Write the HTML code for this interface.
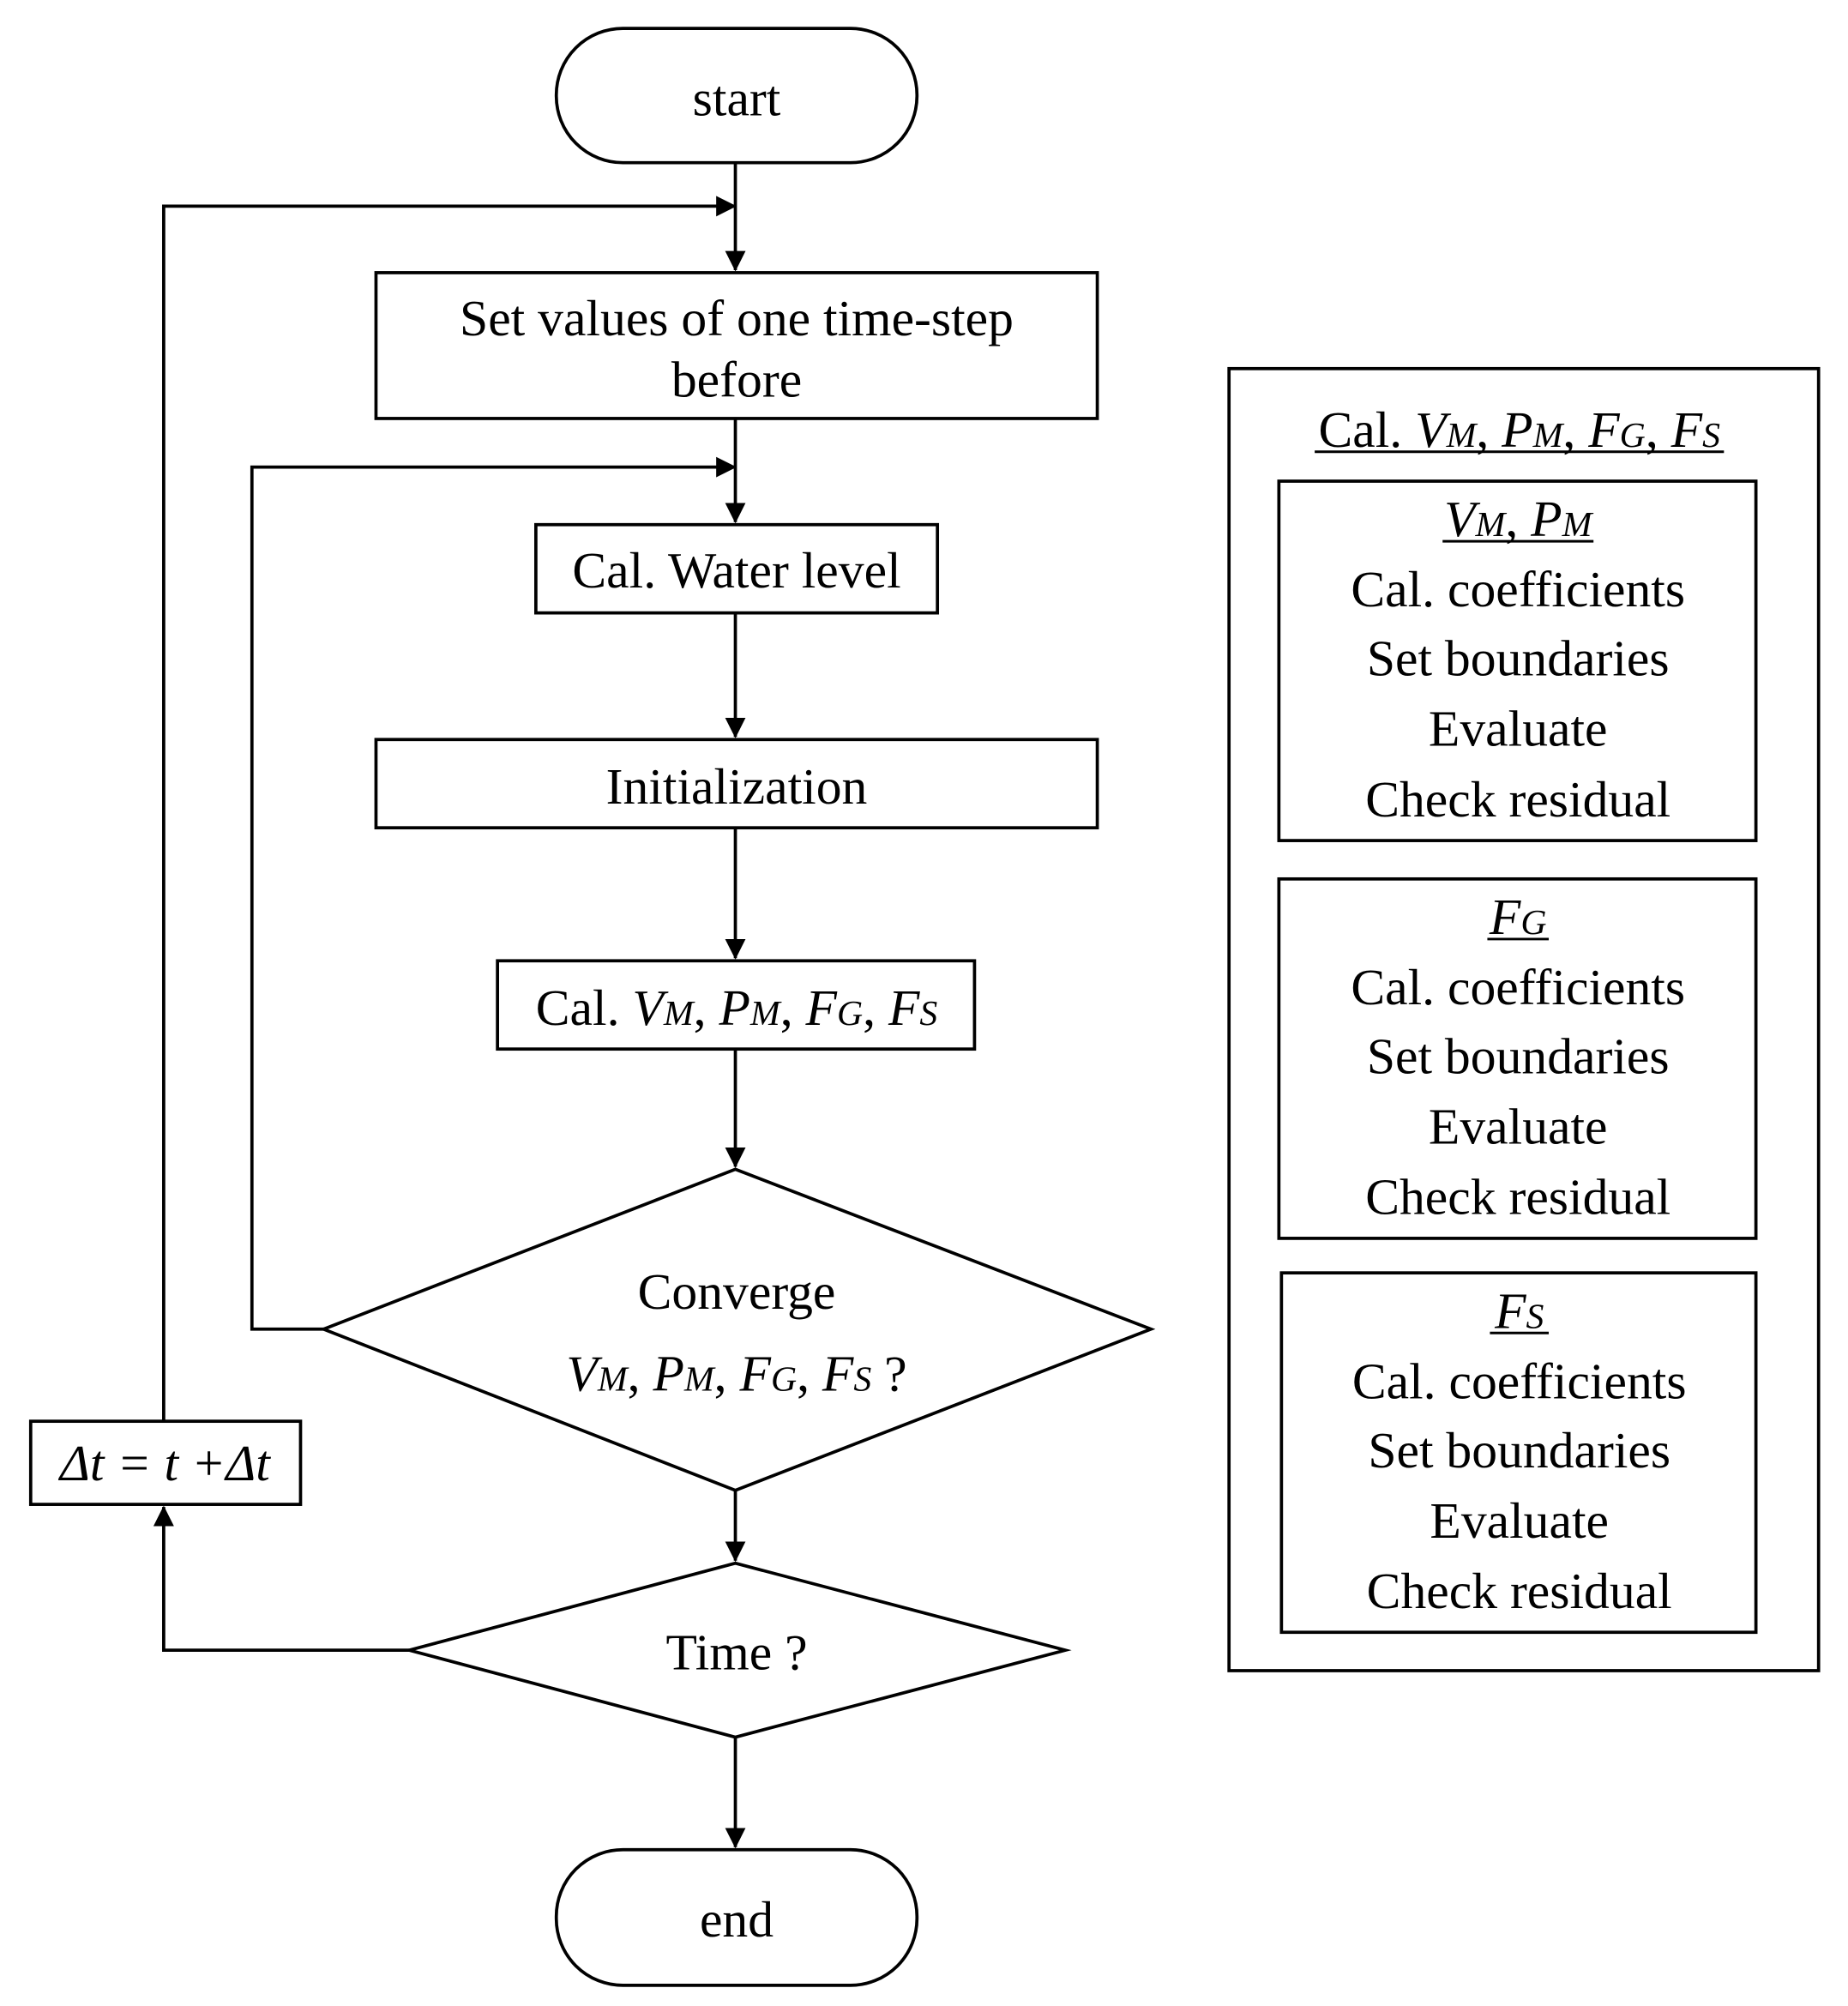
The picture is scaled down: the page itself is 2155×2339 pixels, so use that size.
<!DOCTYPE html>
<html><head><meta charset="utf-8"><style>
html,body{margin:0;padding:0;background:#fff;}
svg{display:block;}
text{font-family:"Liberation Serif",serif;font-size:40px;fill:#000;}
.s{font-size:28px;font-style:italic;}
.i{font-style:italic;}
</style></head><body>
<svg width="2155" height="2339" viewBox="0 0 1445 1568" xmlns="http://www.w3.org/2000/svg">
<defs><marker id="b" markerWidth="16" markerHeight="16" refX="15" refY="8" orient="auto" markerUnits="userSpaceOnUse"><path d="M0,0 L16,8 L0,16 z" fill="#000"/></marker></defs>
<g fill="none" stroke="#000" stroke-width="2.5">
<rect x="435" y="22" width="282" height="105" rx="52"/>
<rect x="294" y="213" width="564" height="114"/>
<rect x="419" y="410" width="314" height="69"/>
<rect x="294" y="578" width="564" height="69"/>
<rect x="389" y="751" width="373" height="69"/>
<polygon points="575,914 900,1039 575,1165 253,1039"/>
<polygon points="575,1222 833,1290 575,1358 320,1290"/>
<rect x="24" y="1111" width="211" height="65"/>
<rect x="435" y="1446" width="282" height="106" rx="52"/>
<rect x="961" y="288" width="461" height="1018"/>
<rect x="1000" y="376" width="373" height="281"/>
<rect x="1000" y="687" width="373" height="281"/>
<rect x="1002" y="995" width="371" height="281"/>
</g>
<g fill="none" stroke="#000" stroke-width="2.5">
<line x1="575" y1="127" x2="575" y2="211" marker-end="url(#b)"/>
<line x1="575" y1="327" x2="575" y2="408" marker-end="url(#b)"/>
<line x1="575" y1="479" x2="575" y2="576" marker-end="url(#b)"/>
<line x1="575" y1="647" x2="575" y2="749" marker-end="url(#b)"/>
<line x1="575" y1="820" x2="575" y2="912" marker-end="url(#b)"/>
<line x1="575" y1="1165" x2="575" y2="1220" marker-end="url(#b)"/>
<line x1="575" y1="1358" x2="575" y2="1444" marker-end="url(#b)"/>
<polyline points="128,1111 128,161 575,161" marker-end="url(#b)"/>
<polyline points="253,1039 197,1039 197,365 575,365" marker-end="url(#b)"/>
<polyline points="320,1290 128,1290 128,1178" marker-end="url(#b)"/>
</g>
<g text-anchor="middle">
<text x="576" y="90">start</text>
<text x="576" y="262">Set values of one time-step</text>
<text x="576" y="310">before</text>
<text x="576" y="459">Cal. Water level</text>
<text x="576" y="628">Initialization</text>
<text x="576" y="801">Cal. <tspan class="i">V</tspan><tspan class="s">M</tspan>, <tspan class="i">P</tspan><tspan class="s">M</tspan>, <tspan class="i">F</tspan><tspan class="s">G</tspan>, <tspan class="i">F</tspan><tspan class="s">S</tspan></text>
<text x="576" y="1023">Converge</text>
<text x="576" y="1087"><tspan class="i">V</tspan><tspan class="s">M</tspan>, <tspan class="i">P</tspan><tspan class="s">M</tspan>, <tspan class="i">F</tspan><tspan class="s">G</tspan>, <tspan class="i">F</tspan><tspan class="s">S</tspan> ?</text>
<text x="576" y="1305">Time ?</text>
<text x="129" y="1157" class="i">Δt = t +Δt</text>
<text x="576" y="1514">end</text>
<text x="1188" y="349">Cal. <tspan class="i">V</tspan><tspan class="s">M</tspan>, <tspan class="i">P</tspan><tspan class="s">M</tspan>, <tspan class="i">F</tspan><tspan class="s">G</tspan>, <tspan class="i">F</tspan><tspan class="s">S</tspan></text>
<text x="1187" y="419"><tspan class="i">V</tspan><tspan class="s">M</tspan>, <tspan class="i">P</tspan><tspan class="s">M</tspan></text>
<text x="1187" y="474">Cal. coefficients</text>
<text x="1187" y="528">Set boundaries</text>
<text x="1187" y="583">Evaluate</text>
<text x="1187" y="638">Check residual</text>
<text x="1187" y="730"><tspan class="i">F</tspan><tspan class="s">G</tspan></text>
<text x="1187" y="785">Cal. coefficients</text>
<text x="1187" y="839">Set boundaries</text>
<text x="1187" y="894">Evaluate</text>
<text x="1187" y="949">Check residual</text>
<text x="1188" y="1038"><tspan class="i">F</tspan><tspan class="s">S</tspan></text>
<text x="1188" y="1093">Cal. coefficients</text>
<text x="1188" y="1147">Set boundaries</text>
<text x="1188" y="1202">Evaluate</text>
<text x="1188" y="1257">Check residual</text>
</g>
<g stroke="#000" stroke-width="2">
<line x1="1028" y1="353" x2="1348" y2="353"/>
<line x1="1128" y1="423" x2="1246" y2="423"/>
<line x1="1163" y1="734" x2="1211" y2="734"/>
<line x1="1165" y1="1042" x2="1211" y2="1042"/>
</g>
</svg>
</body></html>
